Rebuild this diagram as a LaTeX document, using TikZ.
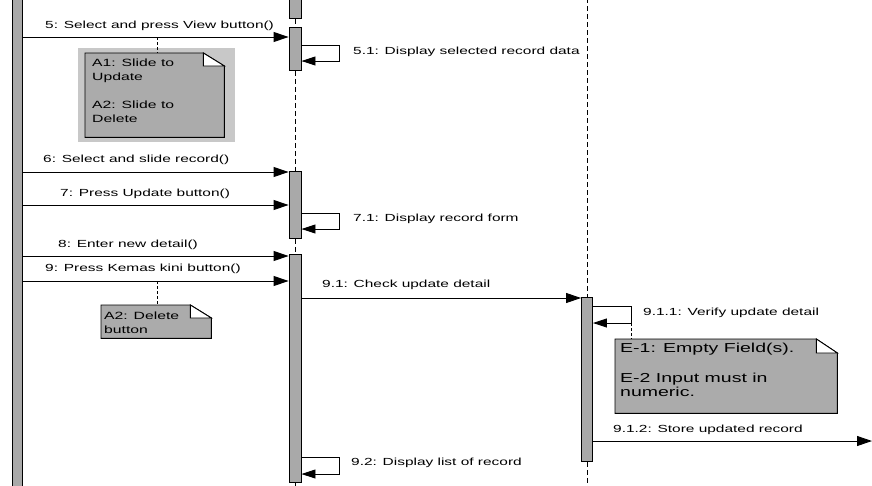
\documentclass[tikz,border=0pt]{standalone}
\usepackage{fontspec}
\usetikzlibrary{arrows.meta}
\newfontfamily\lblfont[FakeStretch=1.5]{Liberation Sans}
\definecolor{actgray}{HTML}{A9A9A9}
\definecolor{notegray}{HTML}{ABABAB}
\definecolor{notebg}{HTML}{C8C8C8}
\tikzset{
  lbl/.style={font=\lblfont\fontsize{10.3}{14}\selectfont, anchor=west, inner sep=0pt},
  notetxt/.style={font=\lblfont\fontsize{10.5}{14}\selectfont, anchor=north west, inner sep=0pt, align=left},
  bignotetxt/.style={font=\lblfont\fontsize{13}{14}\selectfont, anchor=north west, inner sep=0pt, align=left},
  actbox/.style={draw, fill=actgray, line width=0.9pt, inner sep=0pt, minimum width=12pt, anchor=north},
  msg/.style={line width=0.9pt, -{Triangle[length=15pt,width=10pt]}},
  selfmsg/.style={line width=0.9pt, -{Triangle[length=14pt,width=9pt]}},
  lifeline/.style={line width=1pt, dash pattern=on 5pt off 3pt},
  notelink/.style={line width=1pt, dash pattern=on 3pt off 2pt},
  notebody/.style={draw=none, inner sep=0pt, anchor=north west},
  noteshape/.style={draw, fill=notegray, line width=0.9pt},
  notefold/.style={draw, fill=white, line width=0.9pt},
}
\begin{document}
\begin{tikzpicture}[x=1pt,y=-1pt]
\useasboundingbox (0,0) rectangle (872,485);
\fill[white] (0,0) rectangle (872,485);

% left lifeline bar
\node[draw, fill=actgray, line width=0.9pt, inner sep=0pt, minimum width=10pt, minimum height=495pt, anchor=north west] (L) at (12,-5) {};

% middle lifeline
\node[actbox, minimum height=24pt] (T) at (295,-6) {};
\node[actbox, minimum height=43pt] (a1) at (295,27) {};
\node[actbox, minimum height=67pt] (a2) at (295,171) {};
\node[actbox, minimum height=228pt] (a3) at (295,254) {};
\coordinate (mbot) at (295,490);
\draw[lifeline] (T.south) -- (a1.north);
\draw[lifeline] (a1.south) -- (a2.north);
\draw[lifeline] (a2.south) -- (a3.north);
\draw[lifeline] (a3.south) -- (mbot);

% right lifeline
\coordinate (rtop) at (587,-2);
\coordinate (rbot) at (587,490);
\node[actbox, minimum width=11pt, minimum height=164pt] (a4) at (587,297) {};
\draw[lifeline] (rtop) -- (a4.north);
\draw[lifeline] (a4.south) -- (rbot);

% messages from actor
\draw[msg] (L.east |- 0,37) -- (a1.west |- 0,37);
\node[lbl] (m5) at (45,26) {5: Select and press View button()};
\draw[msg] (L.east |- 0,172) -- (a2.west |- 0,172);
\node[lbl] (m6) at (43,160) {6: Select and slide record()};
\draw[msg] (L.east |- 0,205) -- (a2.west |- 0,205);
\node[lbl] (m7) at (60,194) {7: Press Update button()};
\draw[msg] (L.east |- 0,256) -- (a3.west |- 0,256);
\node[lbl] (m8) at (58,245) {8: Enter new detail()};
\draw[msg] (L.east |- 0,281) -- (a3.west |- 0,281);
\node[lbl] (m9) at (45,269) {9: Press Kemas kini button()};

% self messages
\draw[selfmsg] (a1.east |- 0,45) -- (339,45) -- (339,61) -- (a1.east |- 0,61);
\node[lbl] (m51) at (353,52) {5.1: Display selected record data};
\draw[selfmsg] (a2.east |- 0,213) -- (339,213) -- (339,229) -- (a2.east |- 0,229);
\node[lbl] (m71) at (353,219) {7.1: Display record form};
\draw[selfmsg] (a3.east |- 0,457) -- (339,457) -- (339,474) -- (a3.east |- 0,474);
\node[lbl] (m92) at (351,463) {9.2: Display list of record};
\coordinate (c911) at (631,323);
\draw[selfmsg] (a4.east |- 0,306) -- (631,306) -- (c911) -- (a4.east |- 0,323);
\node[lbl] (m911) at (643,313) {9.1.1: Verify update detail};

% 9.1 and 9.1.2
\draw[msg] (a3.east |- 0,298) -- (a4.west |- 0,298);
\node[lbl] (m91) at (322,285) {9.1: Check update detail};
\coordinate (out912) at (872,441);
\draw[msg] (a4.east |- 0,441) -- (out912);
\node[lbl] (m912) at (613,430) {9.1.2: Store updated record};

% Note A1
\node[draw=none, fill=notebg, inner sep=0pt, minimum width=157pt, minimum height=94pt, anchor=north west] (n1bg) at (78,48) {};
\node[notebody, minimum width=139pt, minimum height=84pt] (n1) at (85,53) {};
\draw[noteshape] (n1.north west) -- ([xshift=-21pt]n1.north east) -- ([yshift=-13pt]n1.north east) -- (n1.south east) -- (n1.south west) -- cycle;
\draw[notefold] ([xshift=-21pt]n1.north east) -- ([xshift=-21pt,yshift=-13pt]n1.north east) -- ([yshift=-13pt]n1.north east) -- cycle;
\node[notetxt] (n1t) at (92,58.5) {A1: Slide to\\Update\\[14pt]A2: Slide to\\Delete};
\coordinate (n1link) at (157,37);
\draw[notelink] (n1link) -- (n1.north -| n1link);

% Note A2
\node[notebody, minimum width=110pt, minimum height=33pt] (n2) at (101,305) {};
\draw[noteshape] (n2.north west) -- ([xshift=-21pt]n2.north east) -- ([yshift=-13pt]n2.north east) -- (n2.south east) -- (n2.south west) -- cycle;
\draw[notefold] ([xshift=-21pt]n2.north east) -- ([xshift=-21pt,yshift=-13pt]n2.north east) -- ([yshift=-13pt]n2.north east) -- cycle;
\node[notetxt] (n2t) at (104,311.5) {A2: Delete\\button};
\coordinate (n2link) at (157,281);
\draw[notelink] (n2link) -- (n2.north -| n2link);

% Note E
\node[notebody, minimum width=222pt, minimum height=74pt] (n3) at (615,339) {};
\draw[noteshape] (n3.north west) -- ([xshift=-21pt]n3.north east) -- ([yshift=-14pt]n3.north east) -- (n3.south east) -- (n3.south west) -- cycle;
\draw[notefold] ([xshift=-21pt]n3.north east) -- ([xshift=-21pt,yshift=-14pt]n3.north east) -- ([yshift=-14pt]n3.north east) -- cycle;
\node[bignotetxt] (n3t) at (620,343) {E-1: Empty Field(s).\\[16pt]E-2 Input must in\\numeric.};
\draw[notelink] (c911) -- (n3.north -| c911);
\end{tikzpicture}
\end{document}
